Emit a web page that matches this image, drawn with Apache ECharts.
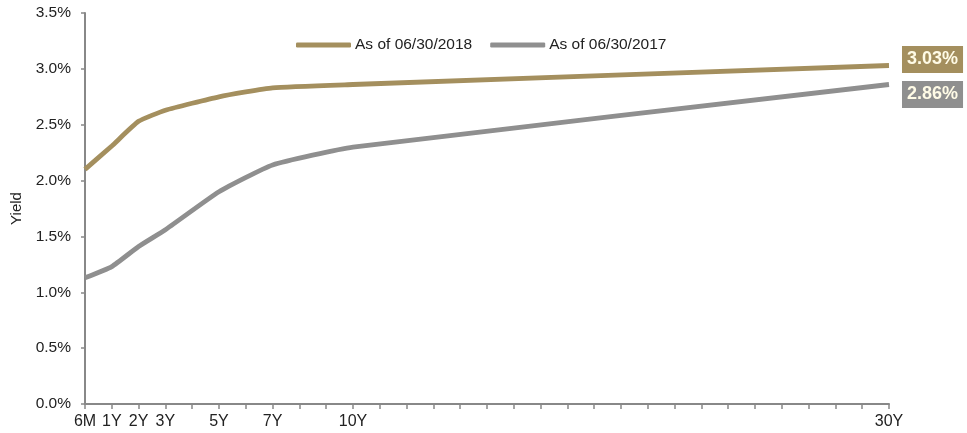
<!DOCTYPE html>
<html>
<head>
<meta charset="utf-8">
<script src="https://cdn.jsdelivr.net/npm/echarts@6/dist/echarts.min.js"></script>
<style>
  html, body { margin: 0; padding: 0; background: #fff; }
  #chart { width: 967px; height: 433px; }
</style>
</head>
<body>
<div id="chart"></div>
<script>
// Treasury yield curve: tenor position (years on the axis) and yields in %
const tenorPos = [0, 1, 2, 3, 5, 7, 10, 30];
const tenorLabels = ['6M', '1Y', '2Y', '3Y', '5Y', '7Y', '10Y', '30Y'];
const yield2018 = [2.10, 2.31, 2.53, 2.63, 2.75, 2.83, 2.86, 3.03];
const yield2017 = [1.13, 1.23, 1.41, 1.56, 1.90, 2.14, 2.30, 2.86];
const yTicks = [0, 0.5, 1, 1.5, 2, 2.5, 3, 3.5];
const seriesNames = ['As of 06/30/2018', 'As of 06/30/2017'];

const GOLD = '#A48F5E';
const GRAY = '#8F8F8F';
const FONT = '"Liberation Sans", Arial, sans-serif';

const toPairs = (vals) => tenorPos.map((x, i) => [x, vals[i]]);

function endLabel(color, dy) {
  return {
    show: true,
    formatter: (p) => p.value[1].toFixed(2) + '%',
    backgroundColor: color,
    color: '#FFFBE6',
    fontFamily: FONT,
    fontWeight: 'bold',
    fontSize: 18,
    padding: [5, 5, 4, 5],
    distance: 13,
    offset: [0, dy]
  };
}

const chart = echarts.init(document.getElementById('chart'));
chart.setOption({
  animation: false,
  textStyle: { fontFamily: FONT },
  grid: { left: 85, top: 13, width: 804, height: 391, containLabel: false },
  legend: {
    left: 291,
    top: 32,
    itemWidth: 55,
    itemHeight: 5,
    itemGap: 18,
    icon: 'roundRect',
    textStyle: { fontFamily: FONT, fontSize: 15.5, color: '#222', padding: [0, 0, 0, -1] },
    data: seriesNames
  },
  xAxis: {
    type: 'value',
    min: 0,
    max: 30,
    interval: 1,
    splitLine: { show: false },
    axisLine: { show: true, lineStyle: { color: '#888', width: 2 } },
    axisTick: { show: true, length: 5, lineStyle: { color: '#888', width: 1.5 } },
    axisLabel: {
      margin: 10,
      fontSize: 16,
      color: '#222',
      formatter: (v) => {
        const i = tenorPos.indexOf(v);
        return i >= 0 ? tenorLabels[i] : '';
      }
    }
  },
  yAxis: {
    type: 'value',
    min: yTicks[0],
    max: yTicks[yTicks.length - 1],
    interval: 0.5,
    name: 'Yield',
    nameLocation: 'middle',
    nameRotate: 90,
    nameGap: 48,
    nameTextStyle: { fontSize: 15, color: '#222', fontFamily: FONT },
    splitLine: { show: false },
    axisLine: { show: true, lineStyle: { color: '#888', width: 2 } },
    axisTick: { show: true, length: 4, lineStyle: { color: '#888', width: 1.5 } },
    axisLabel: {
      margin: 14,
      fontSize: 15.5,
      color: '#222',
      formatter: (v) => v.toFixed(1) + '%'
    }
  },
  series: [
    {
      name: seriesNames[0],
      type: 'line',
      data: toPairs(yield2018),
      smooth: 0.15,
      symbol: 'none',
      lineStyle: { color: GOLD, width: 4.8 },
      itemStyle: { color: GOLD },
      endLabel: endLabel(GOLD, -6)
    },
    {
      name: seriesNames[1],
      type: 'line',
      data: toPairs(yield2017),
      smooth: 0.15,
      symbol: 'none',
      lineStyle: { color: GRAY, width: 4.8 },
      itemStyle: { color: GRAY },
      endLabel: endLabel(GRAY, 10)
    }
  ]
});
</script>
</body>
</html>
